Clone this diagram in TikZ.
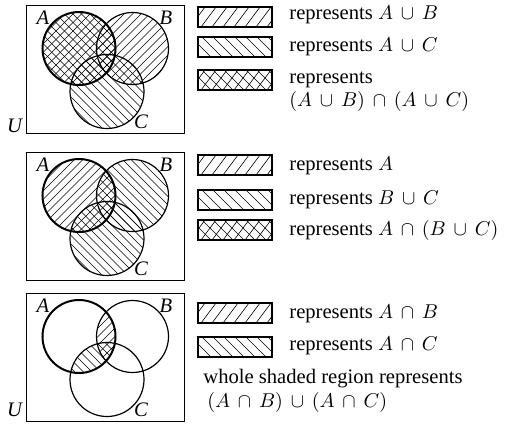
\documentclass[tikz,border=0pt]{standalone}
\usepackage[no-math]{fontspec}
\setmainfont{Liberation Serif}
\medmuskip=7mu plus 2mu minus 2mu
\tikzset{
  lab/.style={font=\fontsize{10.3pt}{12pt}\selectfont, inner sep=0pt},
  txt/.style={lab, anchor=base west},
  hl/.style={line width=0.3pt},
  setA/.style={line width=1pt},
  setO/.style={line width=0.6pt},
  frame/.style={line width=0.5pt},
  keyframe/.style={line width=0.6pt},
}
\newcommand\vNE{\foreach \i in {-160,-151.5,...,360}{\draw[hl] (\i,140) -- ++(160,-160);}}
\newcommand\vNW{\foreach \i in {-160,-151.5,...,360}{\draw[hl] (\i,-20) -- ++(160,160);}}
\newcommand\kNE[1]{\foreach \i in {165,176,...,285}{\draw[hl] (\i,#1+24) -- ++(21,-28);}}
\newcommand\kNW[1]{\foreach \i in {165,176,...,285}{\draw[hl] (\i,#1-4) -- ++(28,28);}}
\newcommand\keyA[1]{\begin{scope}\clip (198,#1) rectangle (272,#1+20); \kNE{#1}\end{scope}\draw[keyframe] (198,#1) rectangle (272,#1+20);}
\newcommand\keyB[1]{\begin{scope}\clip (198,#1) rectangle (272,#1+20); \kNW{#1}\end{scope}\draw[keyframe] (198,#1) rectangle (272,#1+20);}
\newcommand\keyX[1]{\begin{scope}\clip (198,#1) rectangle (272,#1+20); \kNE{#1}\kNW{#1}\end{scope}\draw[keyframe] (198,#1) rectangle (272,#1+20);}
\newcommand\vennlabels[1]{%
  \node[lab] (la#1) at (43,13) {\textit{A}};
  \node[lab] (lb#1) at (166,13) {\textit{B}};
  \node[lab] (lc#1) at (141,117) {\textit{C}};}
\begin{document}
\begin{tikzpicture}[x=0.5pt,y=-0.5pt]
\useasboundingbox (0,0) rectangle (507,423);
% ---------- panel 1
\begin{scope}[shift={(0,5)}]
  \coordinate (A1) at (79,43.5);
  \coordinate (B1) at (132.5,43.5);
  \coordinate (C1) at (107,86.5);
  \begin{scope}\clip (A1) circle[radius=18.25pt]; \vNE \vNW \end{scope}
  \begin{scope}\clip (B1) circle[radius=18pt]; \vNE \end{scope}
  \begin{scope}\clip (C1) circle[radius=18.5pt]; \vNW \end{scope}
  \draw[frame] (26,0) rectangle (184,128);
  \draw[setO] (B1) circle[radius=18pt];
  \draw[setO] (C1) circle[radius=18.5pt];
  \draw[setA] (A1) circle[radius=18.25pt];
  \vennlabels{1}
  \node[lab] (lu1) at (15,121) {\textit{U}};
\end{scope}
\keyA{7}\keyB{37}\keyX{70}
\node[txt] (t11) at (289,19) {represents $A\cup B$};
\node[txt] (t12) at (289,51) {represents $A\cup C$};
\node[txt] (t13) at (289,83) {represents};
\node[txt] (t14) at (289,106) {$(A\cup B)\cap(A\cup C)$};
% ---------- panel 2
\begin{scope}[shift={(0,152)}]
  \coordinate (A2) at (79,43.5);
  \coordinate (B2) at (132.5,43.5);
  \coordinate (C2) at (107,86.5);
  \begin{scope}\clip (A2) circle[radius=18.25pt]; \vNE \end{scope}
  \begin{scope}\clip (B2) circle[radius=18pt]; \vNW \end{scope}
  \begin{scope}\clip (C2) circle[radius=18.5pt]; \vNW \end{scope}
  \draw[frame] (26,0) rectangle (184,128);
  \draw[setO] (B2) circle[radius=18pt];
  \draw[setO] (C2) circle[radius=18.5pt];
  \draw[setA] (A2) circle[radius=18.25pt];
  \vennlabels{2}
\end{scope}
\keyA{155}\keyB{190}\keyX{220}
\node[txt] (t21) at (289,170) {represents $A$};
\node[txt] (t22) at (289,204) {represents $B\cup C$};
\node[txt] (t23) at (289,235) {represents $A\cap(B\cup C)$};
% ---------- panel 3
\begin{scope}[shift={(0,293)}]
  \coordinate (A3) at (79,43.5);
  \coordinate (B3) at (132.5,43.5);
  \coordinate (C3) at (107,86.5);
  \begin{scope}\clip (A3) circle[radius=18.25pt]; \clip (B3) circle[radius=18pt]; \vNE \end{scope}
  \begin{scope}\clip (A3) circle[radius=18.25pt]; \clip (C3) circle[radius=18.5pt]; \vNW \end{scope}
  \draw[frame] (26,0) rectangle (184,128);
  \draw[setO] (B3) circle[radius=18pt];
  \draw[setO] (C3) circle[radius=18.5pt];
  \draw[setA] (A3) circle[radius=18.25pt];
  \vennlabels{3}
  \node[lab] (lu3) at (15,117) {\textit{U}};
\end{scope}
\keyA{303}\keyB{337}
\node[txt] (t31) at (289,318) {represents $A\cap B$};
\node[txt] (t32) at (289,350) {represents $A\cap C$};
\node[txt] (t33) at (203,383) {whole shaded region represents};
\node[txt] (t34) at (207,407) {$(A\cap B)\cup(A\cap C)$};
\end{tikzpicture}
\end{document}
